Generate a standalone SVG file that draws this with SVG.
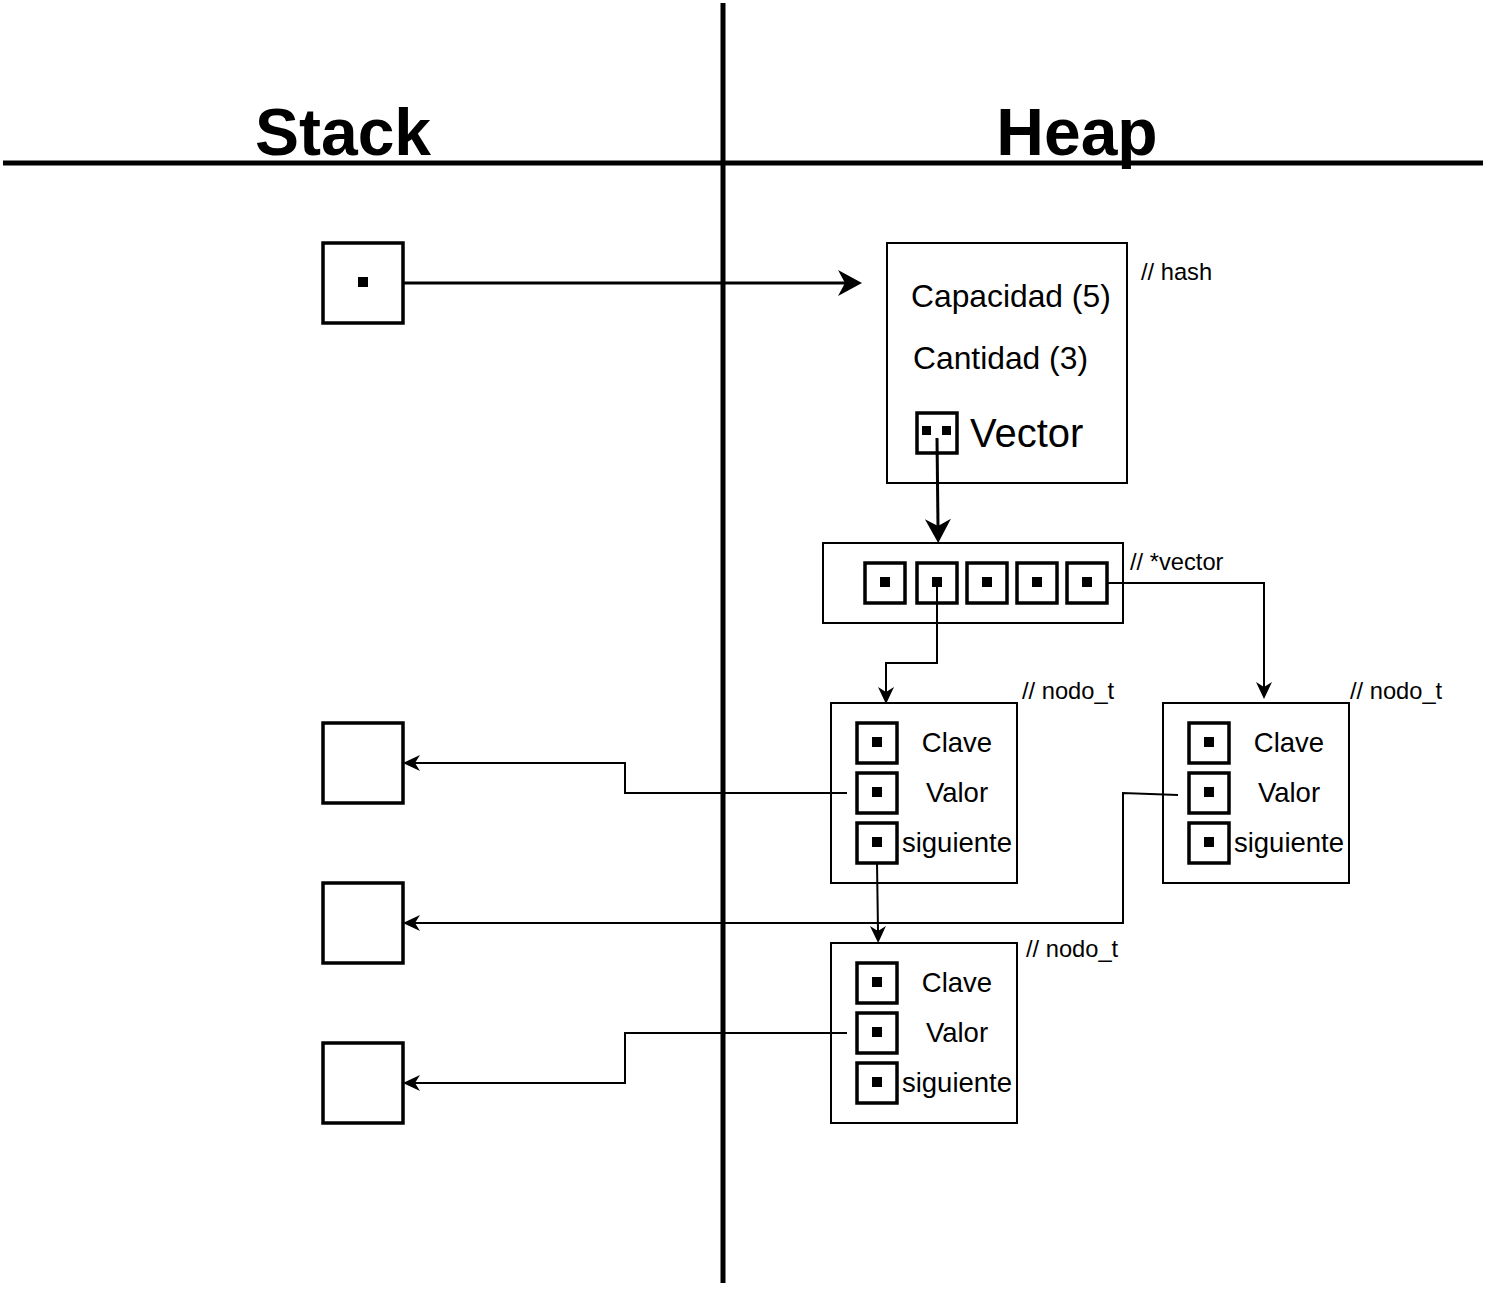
<svg xmlns="http://www.w3.org/2000/svg" width="1490" height="1290" viewBox="0 0 1490 1290">
  <style>
    text { font-family: "Liberation Sans", Arial, sans-serif; fill: #000; }
    .title { font-size: 66px; font-weight: bold; text-anchor: middle; }
    .field { font-size: 27.5px; text-anchor: middle; }
    .note { font-size: 23.7px; }
    .box { fill: #fff; stroke: #000; stroke-width: 2; }
    .cell { fill: #fff; stroke: #000; stroke-width: 3.5; }
    .dot { fill: #000; }
    .axis { stroke: #000; stroke-width: 5; fill: none; }
    .link { fill: none; stroke: #000; stroke-width: 2; }
    .link-bold { fill: none; stroke: #000; stroke-width: 3; }
  </style>
  <defs>
    <marker id="arrow" markerUnits="userSpaceOnUse" viewBox="-8 -10 22 20" markerWidth="22" markerHeight="20" refX="0" refY="0" orient="auto">
      <path d="M-5,-8 L12,0 L-5,8 L0,0 Z" fill="#000"/>
    </marker>
    <marker id="arrow-big" markerUnits="userSpaceOnUse" viewBox="-9 -15 28 30" markerWidth="28" markerHeight="30" refX="0" refY="0" orient="auto">
      <path d="M-7,-13 L17,0 L-7,13 L0,0 Z" fill="#000"/>
    </marker>
  </defs>

  <rect width="1490" height="1290" fill="#fff"/>

  <!-- stack / heap split -->
  <g id="axes">
    <line class="axis" x1="723" y1="3" x2="723" y2="1283"/>
    <line class="axis" x1="3" y1="163" x2="1483" y2="163"/>
    <text class="title" x="343" y="155">Stack</text>
    <text class="title" x="1077" y="155">Heap</text>
  </g>

  <!-- stack variables -->
  <g id="stack-hash-ptr">
    <rect class="cell" x="323" y="243" width="80" height="80"/>
    <rect class="dot" x="358" y="277" width="10" height="10"/>
  </g>
  <g id="stack-slot-1">
    <rect class="cell" x="323" y="723" width="80" height="80"/>
  </g>
  <g id="stack-slot-2">
    <rect class="cell" x="323" y="883" width="80" height="80"/>
  </g>
  <g id="stack-slot-3">
    <rect class="cell" x="323" y="1043" width="80" height="80"/>
  </g>

  <!-- hash struct -->
  <g id="hash">
    <rect class="box" x="887" y="243" width="240" height="240"/>
    <text x="911" y="307" font-size="31.8">Capacidad (5)</text>
    <text x="913" y="369" font-size="31.8">Cantidad (3)</text>
    <rect class="cell" x="917" y="413" width="40" height="40"/>
    <rect class="dot" x="922" y="426" width="9" height="9"/>
    <rect class="dot" x="942" y="426" width="9" height="9"/>
    <text x="970" y="447" font-size="40">Vector</text>
    <text class="note" x="1141" y="280">// hash</text>
  </g>

  <!-- bucket array -->
  <g id="vector">
    <rect class="box" x="823" y="543" width="300" height="80"/>
    <rect class="cell" x="865" y="563" width="40" height="40"/>
    <rect class="dot" x="880" y="577" width="10" height="10"/>
    <rect class="cell" x="917" y="563" width="40" height="40"/>
    <rect class="dot" x="932" y="577" width="10" height="10"/>
    <rect class="cell" x="967" y="563" width="40" height="40"/>
    <rect class="dot" x="982" y="577" width="10" height="10"/>
    <rect class="cell" x="1017" y="563" width="40" height="40"/>
    <rect class="dot" x="1032" y="577" width="10" height="10"/>
    <rect class="cell" x="1067" y="563" width="40" height="40"/>
    <rect class="dot" x="1082" y="577" width="10" height="10"/>
    <text class="note" x="1130" y="570">// *vector</text>
  </g>

  <!-- list node in bucket 1 -->
  <g id="nodo-1">
    <rect class="box" x="831" y="703" width="186" height="180"/>
    <rect class="cell" x="857" y="723" width="40" height="40"/>
    <rect class="dot" x="872" y="737" width="10" height="10"/>
    <rect class="cell" x="857" y="773" width="40" height="40"/>
    <rect class="dot" x="872" y="787" width="10" height="10"/>
    <rect class="cell" x="857" y="823" width="40" height="40"/>
    <rect class="dot" x="872" y="837" width="10" height="10"/>
    <text class="field" x="957" y="752">Clave</text>
    <text class="field" x="957" y="802">Valor</text>
    <text class="field" x="957" y="852">siguiente</text>
    <text class="note" x="1022" y="699">// nodo_t</text>
  </g>

  <!-- list node in bucket 4 -->
  <g id="nodo-2">
    <rect class="box" x="1163" y="703" width="186" height="180"/>
    <rect class="cell" x="1189" y="723" width="40" height="40"/>
    <rect class="dot" x="1204" y="737" width="10" height="10"/>
    <rect class="cell" x="1189" y="773" width="40" height="40"/>
    <rect class="dot" x="1204" y="787" width="10" height="10"/>
    <rect class="cell" x="1189" y="823" width="40" height="40"/>
    <rect class="dot" x="1204" y="837" width="10" height="10"/>
    <text class="field" x="1289" y="752">Clave</text>
    <text class="field" x="1289" y="802">Valor</text>
    <text class="field" x="1289" y="852">siguiente</text>
    <text class="note" x="1350" y="699">// nodo_t</text>
  </g>

  <!-- chained node -->
  <g id="nodo-3">
    <rect class="box" x="831" y="943" width="186" height="180"/>
    <rect class="cell" x="857" y="963" width="40" height="40"/>
    <rect class="dot" x="872" y="977" width="10" height="10"/>
    <rect class="cell" x="857" y="1013" width="40" height="40"/>
    <rect class="dot" x="872" y="1027" width="10" height="10"/>
    <rect class="cell" x="857" y="1063" width="40" height="40"/>
    <rect class="dot" x="872" y="1077" width="10" height="10"/>
    <text class="field" x="957" y="992">Clave</text>
    <text class="field" x="957" y="1042">Valor</text>
    <text class="field" x="957" y="1092">siguiente</text>
    <text class="note" x="1026" y="957">// nodo_t</text>
  </g>

  <!-- pointers -->
  <g id="connectors">
    <path class="link-bold" d="M403,283 H845" marker-end="url(#arrow-big)"/>
    <path class="link-bold" d="M937,438 L938,526" marker-end="url(#arrow-big)"/>
    <path class="link" d="M937,582 V663 H886 V692" marker-end="url(#arrow)"/>
    <path class="link" d="M1107,583 H1264 V687" marker-end="url(#arrow)"/>
    <path class="link" d="M847,793 H625 V763 H415" marker-end="url(#arrow)"/>
    <path class="link" d="M1178,795 L1123,793 V923 H415" marker-end="url(#arrow)"/>
    <path class="link" d="M847,1033 H625 V1083 H415" marker-end="url(#arrow)"/>
    <path class="link" d="M877,863 L878,931" marker-end="url(#arrow)"/>
  </g>
</svg>
